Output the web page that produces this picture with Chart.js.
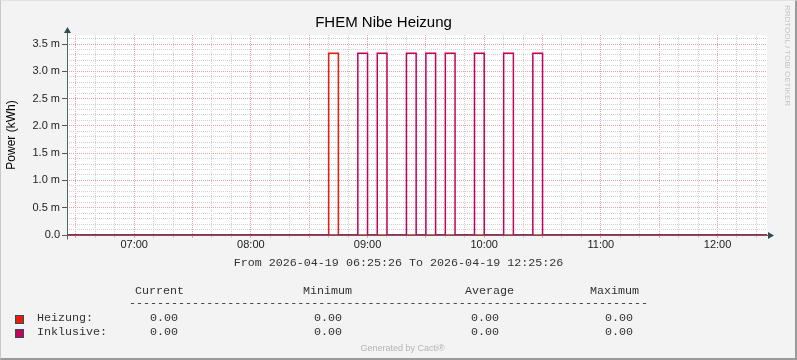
<!DOCTYPE html>
<html>
<head>
<meta charset="utf-8">
<script src="https://cdn.jsdelivr.net/npm/chart.js@4/dist/chart.umd.min.js"></script>
<style>
body { margin: 0; background: #f3f3f3; }
#wrap { position: relative; width: 797px; height: 360px; overflow: hidden; }
#graph { position: absolute; left: 0; top: 0; }
#frame { position: absolute; left: 0; top: 0; width: 797px; height: 360px; box-sizing: border-box;
         border-left: 1px solid #c8c8c8; border-top: 1px solid #e2e2e2;
         border-right: 2px solid #9a9a9a; border-bottom: 2px solid #9a9a9a; pointer-events: none; }
.mono { position: absolute; font-family: 'Liberation Mono', monospace; font-size: 11.7px;
        line-height: 14px; color: #333; white-space: pre; }
.swatch { position: absolute; width: 7px; height: 7px; border: 1px solid #2f4f4f; }
#cacti { position: absolute; left: 0; width: 805px; top: 343px; text-align: center;
         font-family: 'Liberation Sans', sans-serif; font-size: 9px; color: #b4b4b4; }
#rrdtool { position: absolute; left: 783px; top: 5px; writing-mode: vertical-rl;
           font-family: 'Liberation Sans', sans-serif; font-size: 8px; color: #c4c4c4; white-space: nowrap; }
</style>
</head>
<body>
<div id="wrap">
    <canvas id="graph" width="797" height="360"></canvas>
    <div class="mono" id="period" style="left:0; width:797px; text-align:center; top:256px;"></div>
    <div id="legend"></div>
    <div id="cacti">Generated by Cacti®</div>
    <div id="rrdtool">RRDTOOL / TOBI OETIKER</div>
    <div id="frame"></div>
</div>
<script>
// plage du graphique
const graphStart = '06:25:26';
const graphEnd = '12:25:26';
const periodText = 'From 2026-04-19 06:25:26 To 2026-04-19 12:25:26';

// Heizung : une seule impulsion (rouge)
const heizungTimes = ['06:25:26', '08:40', '08:45', '12:25:26'];
const heizungValues = [0, 3.33, 0, 0];

// Inklusive : les autres impulsions
const inklusiveTimes = ['06:25:26', '08:55', '09:00', '09:05', '09:10', '09:20', '09:25', '09:30', '09:35',
    '09:40', '09:45', '09:55', '10:00', '10:10', '10:15', '10:25', '10:30', '12:25:26'];
const inklusiveValues = [0, 3.33, 0, 3.33, 0, 3.33, 0, 3.33, 0,
    3.33, 0, 3.33, 0, 3.33, 0, 3.33, 0, 0];

const xTickLabels = ['07:00', '08:00', '09:00', '10:00', '11:00', '12:00'];
const yTickLabels = ['0.0', '0.5 m', '1.0 m', '1.5 m', '2.0 m', '2.5 m', '3.0 m', '3.5 m'];
const yMax = 3.665;

// legende du bas
const legendNames = ['Heizung:', 'Inklusive:'];
const legendColors = ['#ea1b0d', '#c4005a'];
const statHeaders = ['Current', 'Minimum', 'Average', 'Maximum'];
const heizungStats = ['0.00', '0.00', '0.00', '0.00'];
const inklusiveStats = ['0.00', '0.00', '0.00', '0.00'];

function toMin(t) {
    const p = t.split(':').map(Number);
    return p[0] * 60 + p[1] + (p[2] || 0) / 60;
}

function fmtTime(m) {
    const h = Math.floor(m / 60);
    const mm = Math.round(m % 60);
    return String(h).padStart(2, '0') + ':' + String(mm).padStart(2, '0');
}

function toPoints(times, values) {
    return times.map((t, i) => ({x: toMin(t), y: values[i]}));
}

// fond blanc + axes avec fleches
const rrdFrame = {
    id: 'rrdFrame',
    beforeDraw(chart) {
        const {ctx, chartArea: a} = chart;
        ctx.save();
        ctx.fillStyle = '#ffffff';
        ctx.fillRect(a.left, a.top, a.right - a.left, a.bottom - a.top);
        ctx.restore();
    },
    beforeDatasetsDraw(chart) {
        const {ctx, chartArea: a} = chart;
        const x0 = Math.round(a.left) + 0.5;
        const y0 = Math.round(a.bottom) + 0.5;
        ctx.save();
        ctx.strokeStyle = '#4a6a60';
        ctx.fillStyle = '#2f4f4f';
        ctx.lineWidth = 1;
        ctx.beginPath();
        ctx.moveTo(x0, y0 + 4);
        ctx.lineTo(x0, a.top - 3);
        ctx.moveTo(x0 - 5, y0);
        ctx.lineTo(a.right + 2, y0);
        ctx.stroke();
        ctx.beginPath();
        ctx.moveTo(x0, a.top - 8);
        ctx.lineTo(x0 - 3.5, a.top - 2);
        ctx.lineTo(x0 + 3.5, a.top - 2);
        ctx.closePath();
        ctx.fill();
        ctx.beginPath();
        ctx.moveTo(a.right + 7, y0);
        ctx.lineTo(a.right + 1, y0 - 3.5);
        ctx.lineTo(a.right + 1, y0 + 3.5);
        ctx.closePath();
        ctx.fill();
        ctx.restore();
    }
};

const ctx = document.getElementById('graph').getContext('2d');
new Chart(ctx, {
    type: 'line',
    data: {
        datasets: [{
            label: 'Heizung',
            data: toPoints(heizungTimes, heizungValues),
            borderColor: legendColors[0],
            borderWidth: 1.5,
            stepped: 'before',
            pointRadius: 0,
            fill: false,
            order: 2,
        }, {
            label: 'Inklusive',
            data: toPoints(inklusiveTimes, inklusiveValues),
            borderColor: legendColors[1],
            borderWidth: 1.5,
            stepped: 'before',
            pointRadius: 0,
            fill: false,
            order: 1,
        }],
    },
    options: {
        responsive: false,
        animation: false,
        layout: {padding: {left: 0, right: 30, top: 0, bottom: 105}},
        plugins: {
            legend: {display: false},
            tooltip: {enabled: false},
            title: {
                display: true,
                text: 'FHEM Nibe Heizung',
                color: '#000',
                font: {family: 'Liberation Sans', size: 15, weight: 'normal'},
                padding: {top: 14, bottom: 3},
            },
        },
        scales: {
            x: {
                type: 'linear',
                min: toMin(graphStart),
                max: toMin(graphEnd),
                bounds: 'data',
                afterFit: scale => { scale.height = 20; },
                afterBuildTicks: axis => {
                    const ticks = [];
                    for (let m = 390; m < toMin(graphEnd); m += 10) ticks.push({value: m});
                    axis.ticks = ticks;
                },
                border: {display: false, dash: [1, 1]},
                grid: {
                    color: c => (c.tick && c.tick.value % 30 === 0) ? '#e8a0a0' : '#d0d0d0',
                    tickColor: c => (c.tick && c.tick.value % 30 === 0) ? '#e8a0a0' : '#d0d0d0',
                    tickLength: 3,
                },
                ticks: {
                    autoSkip: false,
                    maxRotation: 0,
                    padding: 0,
                    color: '#222',
                    font: {family: 'Liberation Sans', size: 11},
                    callback: value => {
                        const s = fmtTime(value);
                        return xTickLabels.includes(s) && value % 60 === 0 ? s : '';
                    },
                },
            },
            y: {
                min: 0,
                max: yMax,
                bounds: 'data',
                afterFit: scale => { scale.width = 67; },
                afterBuildTicks: axis => {
                    const ticks = [];
                    for (let i = 0; i <= 36; i++) ticks.push({value: i / 10});
                    axis.ticks = ticks;
                },
                border: {display: false, dash: [1, 1]},
                grid: {
                    color: c => (c.tick && Math.round(c.tick.value * 10) % 5 === 0) ? '#e8a0a0' : '#d0d0d0',
                    tickColor: c => (c.tick && Math.round(c.tick.value * 10) % 5 === 0) ? '#555' : 'rgba(0,0,0,0)',
                    tickLength: 5,
                },
                title: {
                    display: true,
                    text: 'Power (kWh)',
                    color: '#000',
                    font: {family: 'Liberation Sans', size: 12, weight: 'normal'},
                    padding: {top: 4, bottom: 0},
                },
                ticks: {
                    autoSkip: false,
                    padding: 2,
                    color: '#222',
                    font: {family: 'Liberation Sans', size: 11},
                    callback: value => {
                        const k = Math.round(value * 10);
                        return k % 5 === 0 ? yTickLabels[k / 5] : '';
                    },
                },
            },
        },
    },
    plugins: [rrdFrame],
});

// texte sous le graphique
document.getElementById('period').textContent = periodText;

function addText(parent, text, left, top, cls) {
    const el = document.createElement('div');
    el.className = cls;
    el.style.left = left + 'px';
    el.style.top = top + 'px';
    el.textContent = text;
    parent.appendChild(el);
    return el;
}

const legend = document.getElementById('legend');
const headerLeft = [135, 303, 465, 590];
const valueLeft = [150, 314, 471, 605];
statHeaders.forEach((h, i) => addText(legend, h, headerLeft[i], 284, 'mono'));
addText(legend, '-'.repeat(74), 129, 296, 'mono');
[heizungStats, inklusiveStats].forEach((row, r) => {
    const top = 311 + r * 14;
    const sw = addText(legend, '', 15, 315 + r * 14, 'swatch');
    sw.style.background = legendColors[r];
    addText(legend, legendNames[r], 37, top, 'mono');
    row.forEach((v, i) => addText(legend, v, valueLeft[i], top, 'mono'));
});
</script>
</body>
</html>
